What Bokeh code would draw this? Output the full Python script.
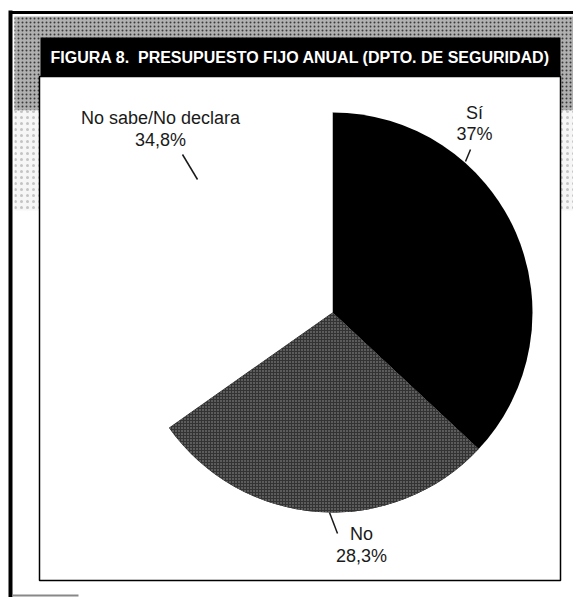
import math
from bokeh.plotting import figure
from bokeh.models import Range1d, ColumnDataSource
from bokeh.core.properties import value
from bokeh.embed import file_html
from bokeh.resources import INLINE

# ---- data ----
categories = ["Sí", "No", "No sabe/No declara"]
percent_values = [37.0, 28.3, 34.8]
percent_labels = ["37%", "28,3%", "34,8%"]
slice_colors = ["#000000", "#333333", "#ffffff"]
title_text = "FIGURA 8.\u00a0 PRESUPUESTO FIJO ANUAL (DPTO. DE SEGURIDAD)"

# ---- layout (picture pixels, converted to data units) ----
W, H = 573, 597
def X(xs):
    return xs
def Y(ys):
    return H - ys

CX, CY, R = 332, 312, 200
label_pos = {  # (x, y of name line, y of percent line)
    "Sí": (474, 112, 133),
    "No": (361, 533, 555),
    "No sabe/No declara": (160, 117, 139),
}
leader = {
    "Sí": ((470, 149), (465, 161)),
    "No": ((329, 512), (337, 533)),
    "No sabe/No declara": ((182, 154), (197, 179)),
}

p = figure(width=W, height=H, x_range=Range1d(0, W), y_range=Range1d(0, H),
           output_backend="svg", toolbar_location=None, min_border=0,
           background_fill_color="white", border_fill_color="white")
p.axis.visible = False
p.grid.visible = False
p.outline_line_color = None

# textured (screened) border area
p.quad(left=[X(14)], right=[X(581)], top=[Y(16)], bottom=[Y(110)], fill_color="#b0b0b0",
       line_color=None, hatch_pattern="dot", hatch_color="#3a3a3a", hatch_scale=4, hatch_weight=1)
p.quad(left=[X(14)], right=[X(581)], top=[Y(110)], bottom=[Y(210)], fill_color="#f6f6f6",
       line_color=None, hatch_pattern="dot", hatch_color="#c4c4c4", hatch_scale=6, hatch_weight=1)

# outer frame lines
p.line([X(10), X(10)], [Y(10), Y(605)], line_color="black", line_width=4)
p.line([X(10), X(581)], [Y(12), Y(12)], line_color="black", line_width=3)
p.line([X(12), X(78)], [Y(595), Y(595)], line_color="#888888", line_width=2)

# inner white box
p.quad(left=[X(39)], right=[X(560)], top=[Y(76)], bottom=[Y(580)], fill_color="white",
       line_color="black", line_width=1.5)

# title bar
p.quad(left=[X(40)], right=[X(560)], top=[Y(37)], bottom=[Y(76)], fill_color="black", line_color=None)
p.text(x=[X(300)], y=[Y(57)], text=[title_text], text_color="white",
       text_font=value("Liberation Sans"),
       text_font_style="bold", text_font_size="16px", text_align="center", text_baseline="middle")

# pie
total = sum(percent_values)
starts, ends = [], []
acc = 0.0
for v in percent_values:
    starts.append(math.pi / 2 - 2 * math.pi * acc / total)
    acc += v
    ends.append(math.pi / 2 - 2 * math.pi * acc / total)
src = ColumnDataSource(dict(cat=categories, start=starts, end=ends, color=slice_colors))
p.wedge(x=X(CX), y=Y(CY), radius=R, start_angle="start", end_angle="end", direction="clock",
        fill_color="color", line_color=None, source=src)
# dithered look for the gray slice
p.wedge(x=X(CX), y=Y(CY), radius=R, start_angle=starts[1], end_angle=ends[1], direction="clock",
        fill_color="#333333", line_color=None, hatch_pattern="dot", hatch_color="#999999",
        hatch_scale=3, hatch_weight=1)

# labels
for cat, pct in zip(categories, percent_labels):
    lx, ly1, ly2 = label_pos[cat]
    p.text(x=[X(lx)], y=[Y(ly1)], text=[cat], text_color="#1a1a1a",
           text_font=value("Liberation Sans"), text_font_size="18px",
           text_align="center", text_baseline="middle")
    p.text(x=[X(lx)], y=[Y(ly2)], text=[pct], text_color="#1a1a1a",
           text_font=value("Liberation Sans"), text_font_size="18px",
           text_align="center", text_baseline="middle")
    (x1, y1), (x2, y2) = leader[cat]
    p.line([X(x1), X(x2)], [Y(y1), Y(y2)], line_color="#1a1a1a", line_width=1.5)

open("out.html", "w").write(file_html(p, INLINE))
